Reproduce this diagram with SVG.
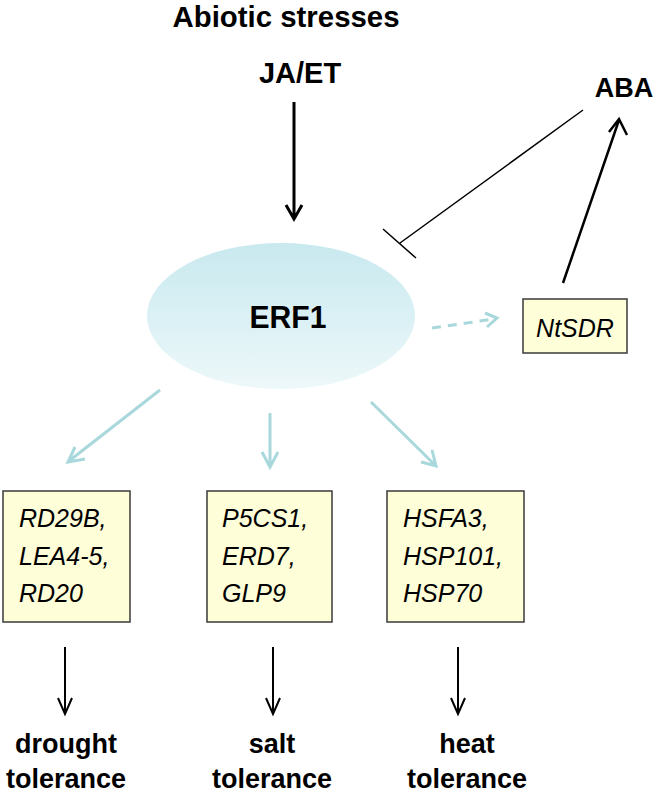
<svg xmlns="http://www.w3.org/2000/svg" width="659" height="793" viewBox="0 0 659 793">
<defs>
<linearGradient id="ellg" x1="0" y1="0" x2="0" y2="1">
<stop offset="0" stop-color="#c8e9ef"/>
<stop offset="1" stop-color="#edf8fa"/>
</linearGradient>
</defs>
<style>
.b{font-family:"Liberation Sans",Arial,sans-serif;font-weight:bold;fill:#000}
.i{font-family:"Liberation Sans",Arial,sans-serif;font-style:italic;font-size:25px;fill:#000}
.box{fill:#fefed9;stroke:#3a3a3a;stroke-width:1.5}
.k{fill:none;stroke:#000;stroke-linecap:butt;stroke-linejoin:miter}
.t{fill:none;stroke:#a9d8dc;stroke-width:3;stroke-linecap:butt}
</style>
<rect width="659" height="793" fill="#fff"/>
<g id="abiotic"><text class="b" x="286" y="27" font-size="29" text-anchor="middle" textLength="227" lengthAdjust="spacingAndGlyphs">Abiotic stresses</text></g>
<g id="jaet"><text class="b" x="300" y="83" font-size="29" text-anchor="middle">JA/ET</text></g>
<g id="aba"><text class="b" x="624" y="97" font-size="27" text-anchor="middle">ABA</text></g>
<g id="erf1">
<ellipse cx="281" cy="316" rx="134" ry="73" fill="url(#ellg)"/>
<text class="b" x="288" y="328" font-size="32" text-anchor="middle" textLength="77" lengthAdjust="spacingAndGlyphs">ERF1</text>
</g>
<g id="ntsdr">
<rect class="box" x="523" y="299" width="104" height="54"/>
<text class="i" x="575" y="337" font-size="24" text-anchor="middle">NtSDR</text>
</g>
<g id="drought-genes">
<rect class="box" x="3" y="491" width="127" height="131"/>
<text class="i" x="19" y="527">RD29B,</text>
<text class="i" x="19" y="565">LEA4-5,</text>
<text class="i" x="19" y="602">RD20</text>
</g>
<g id="salt-genes">
<rect class="box" x="207" y="491" width="125" height="131"/>
<text class="i" x="222" y="527">P5CS1,</text>
<text class="i" x="222" y="565">ERD7,</text>
<text class="i" x="222" y="602">GLP9</text>
</g>
<g id="heat-genes">
<rect class="box" x="387" y="491" width="137" height="131"/>
<text class="i" x="403" y="527">HSFA3,</text>
<text class="i" x="403" y="565">HSP101,</text>
<text class="i" x="403" y="602">HSP70</text>
</g>
<g id="drought">
<text class="b" x="66" y="753" font-size="27" text-anchor="middle">drought</text>
<text class="b" x="66" y="788" font-size="27" text-anchor="middle">tolerance</text>
</g>
<g id="salt">
<text class="b" x="272" y="753" font-size="27" text-anchor="middle">salt</text>
<text class="b" x="272" y="788" font-size="27" text-anchor="middle">tolerance</text>
</g>
<g id="heat">
<text class="b" x="467" y="753" font-size="27" text-anchor="middle">heat</text>
<text class="b" x="467" y="788" font-size="27" text-anchor="middle">tolerance</text>
</g>
<g id="connectors">
<path class="k" stroke-width="3" d="M294 102V219M286 205L294 219L302 205"/>
<path class="k" stroke-width="1.5" d="M583 110L400 243M383 229L416 258"/>
<path class="k" stroke-width="2.5" d="M563 283L619 120M609 132L619 119L627 135"/>
<path class="t" stroke-dasharray="9 7" d="M432 328L494 319"/>
<path class="t" d="M485 313L497 318L487 327"/>
<path class="t" d="M160 390L69 461M75 447L68 462L85 459"/>
<path class="t" d="M270 413V466M262 452L270 467L278 452"/>
<path class="t" d="M371 402L435 465M432 450L436 466L421 462"/>
<path class="k" stroke-width="2" d="M65 647V714M58 698L65 714L72 698"/>
<path class="k" stroke-width="2" d="M273 647V714M266 698L273 714L280 698"/>
<path class="k" stroke-width="2" d="M458 647V714M451 698L458 714L465 698"/>
</g>
</svg>
